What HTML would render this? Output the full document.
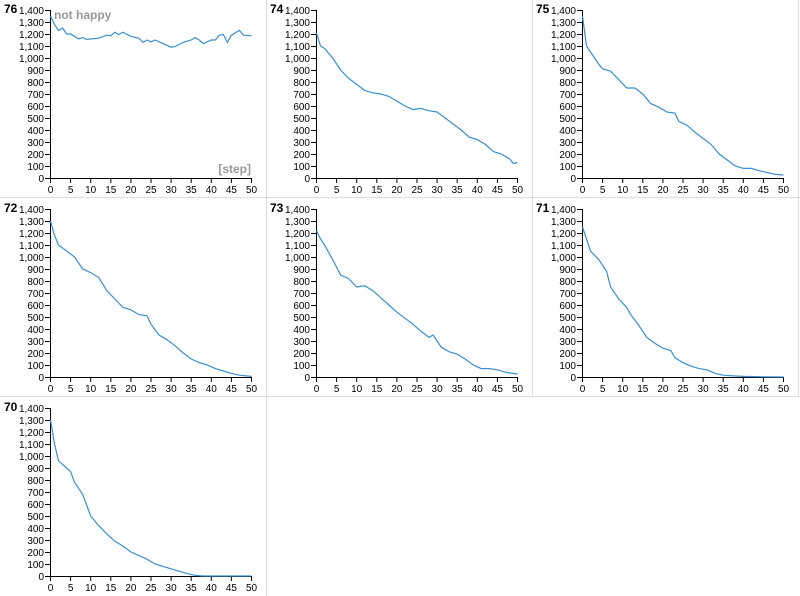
<!DOCTYPE html>
<html><head><meta charset="utf-8"><style>
body{margin:0;background:#fff;}
svg{display:block;font-family:"Liberation Sans",Arial,sans-serif;}
.t{font-size:10px;fill:#000;}
.ax{stroke:#000;stroke-width:1;fill:none;}
.ln{stroke:#3a8fd0;stroke-width:1.2;fill:none;}
.b{stroke:#ddd;stroke-width:1;fill:none;}
</style></head><body>
<svg width="800" height="596" viewBox="0 0 800 596">
<line class="b" x1="266.5" y1="0" x2="266.5" y2="596"/>
<line class="b" x1="532.5" y1="0" x2="532.5" y2="397"/>
<line class="b" x1="798.5" y1="0" x2="798.5" y2="397"/>
<line class="b" x1="0" y1="197.5" x2="800" y2="197.5"/>
<line class="b" x1="0" y1="396.5" x2="800" y2="396.5"/>
<g id="p0"></g>
</svg>
<script>
var data={
"76":[[0,1350],[1,1280],[2,1230],[3,1250],[4,1200],[5,1200],[7,1160],[8,1170],[9,1155],[12,1165],[14,1190],[15,1185],[16,1215],[17,1195],[18,1215],[20,1180],[22,1165],[23,1130],[24,1150],[25,1135],[26,1150],[28,1120],[30,1090],[31,1095],[33,1130],[35,1150],[36,1170],[37,1150],[38,1120],[40,1150],[41,1150],[42,1190],[43,1195],[44,1130],[45,1190],[47,1230],[48,1190],[50,1185]],
"74":[[0,1210],[1,1100],[2,1080],[4,1000],[6,900],[8,830],[10,780],[12,730],[14,710],[16,700],[18,680],[20,640],[22,600],[24,570],[26,580],[28,560],[30,550],[32,500],[34,450],[36,400],[38,340],[40,320],[42,280],[44,220],[46,200],[48,160],[49,120],[50,130]],
"75":[[0,1350],[1,1100],[2,1050],[4,950],[5,910],[7,890],[9,820],[11,750],[13,750],[15,700],[17,620],[19,590],[21,550],[23,540],[24,470],[26,440],[28,380],[30,330],[32,280],[34,200],[36,150],[38,100],[40,80],[42,80],[44,60],[46,45],[48,30],[50,25]],
"72":[[0,1300],[1,1180],[2,1100],[4,1050],[6,1000],[8,900],[10,870],[12,830],[14,720],[16,650],[18,580],[20,560],[22,520],[24,510],[25,440],[27,350],[29,310],[31,260],[33,200],[35,150],[37,120],[39,100],[41,70],[43,50],[45,30],[47,15],[50,5]],
"73":[[0,1220],[1,1150],[2,1100],[4,980],[6,850],[8,820],[10,750],[12,760],[14,720],[16,660],[18,600],[20,540],[22,490],[24,440],[26,380],[28,330],[29,350],[31,250],[33,210],[35,190],[37,150],[39,100],[41,70],[43,70],[45,60],[47,40],[50,25]],
"71":[[0,1250],[1,1150],[2,1050],[4,980],[6,880],[7,750],[9,650],[11,580],[12,520],[14,430],[16,330],[18,280],[20,240],[22,220],[23,160],[25,120],[27,90],[29,70],[31,60],[33,30],[35,15],[38,8],[40,5],[45,2],[50,0]],
"70":[[0,1300],[1,1100],[2,960],[3,930],[4,900],[5,870],[6,780],[8,680],[10,500],[12,420],[14,350],[16,290],[18,250],[20,200],[22,170],[24,140],[26,100],[28,80],[30,60],[32,40],[34,20],[36,5],[38,0],[50,0]]};
var pan=[["76",0,0],["74",266,0],["75",532,0],["72",0,199],["73",266,199],["71",532,199],["70",0,398]];
var s="";
pan.forEach(function(p,i){
 var g='<g transform="translate('+p[1]+','+p[2]+')">';
 g+='<text x="4" y="13" style="font-size:12px;font-weight:bold">'+p[0]+'</text>';
 g+='<path class="ax" d="M45,10.5H50.5V178.5H251.5"/>';
 for(var v=0;v<=1400;v+=100){var y=178.5-v*0.12;g+='<line class="ax" x1="45" x2="50" y1="'+y+'" y2="'+y+'"/><text class="t" x="44" y="'+(y+3.5)+'" text-anchor="end">'+(v>=1000?(Math.floor(v/1000)+","+String(v%1000).padStart(3,"0")):v)+'</text>';}
 for(var k=0;k<=50;k+=5){var x=50.5+k*4.02;g+='<line class="ax" x1="'+x+'" x2="'+x+'" y1="178" y2="183"/><text class="t" x="'+x+'" y="193" text-anchor="middle">'+k+'</text>';}
 var d=data[p[0]].map(function(q,j){return (j?"L":"M")+(50.5+q[0]*4.02).toFixed(1)+","+(178-q[1]*0.12).toFixed(1);}).join("");
 g+='<path class="ln" d="'+d+'"/>';
 if(i==0){g+='<text x="54" y="19" style="font-size:12px;font-weight:bold;fill:#999">not happy</text><text x="251" y="173" text-anchor="end" style="font-size:12px;font-weight:bold;fill:#999">[step]</text>';}
 s+=g+'</g>';
});
document.getElementById("p0").innerHTML=s;
</script>
</body></html>
